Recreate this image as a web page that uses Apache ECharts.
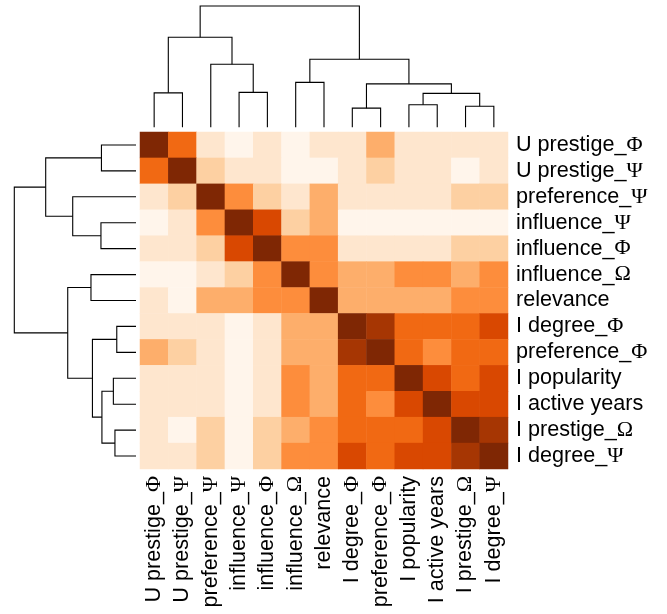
<!DOCTYPE html>
<html>
<head>
<meta charset="utf-8">
<script src="https://cdn.jsdelivr.net/npm/echarts@6/dist/echarts.min.js"></script>
<style>html,body{margin:0;padding:0;background:#fff;}#c{width:667px;height:614px;}</style>
</head>
<body>
<div id="c"></div>
<script>
// Variables, in clustered order (same for rows and columns)
const labels = ['U prestige_Φ','U prestige_Ψ','preference_Ψ','influence_Ψ','influence_Φ','influence_Ω','relevance',
  'I degree_Φ','preference_Φ','I popularity','I active years','I prestige_Ω','I degree_Ψ'];

// Colour level (0 = palest, 8 = darkest)
const row0  = [8,5,1,0,1,0,1,1,3,1,1,1,1];
const row1  = [5,8,2,1,1,0,0,1,2,1,1,0,1];
const row2  = [1,2,8,4,2,1,3,1,1,1,1,2,2];
const row3  = [0,1,4,8,6,2,3,0,0,0,0,0,0];
const row4  = [1,1,2,6,8,4,4,1,1,1,1,2,2];
const row5  = [0,0,1,2,4,8,4,3,3,4,4,3,4];
const row6  = [1,0,3,3,4,4,8,3,3,3,3,4,4];
const row7  = [1,1,1,0,1,3,3,8,7,5,5,5,6];
const row8  = [3,2,1,0,1,3,3,7,8,5,4,5,5];
const row9  = [1,1,1,0,1,4,3,5,5,8,6,5,6];
const row10 = [1,1,1,0,1,4,3,5,4,6,8,6,6];
const row11 = [1,0,2,0,2,3,4,5,5,5,6,8,7];
const row12 = [1,1,2,0,2,4,4,6,5,6,6,7,8];
const levels = [row0,row1,row2,row3,row4,row5,row6,row7,row8,row9,row10,row11,row12];

// Linkage: [childA, childB, height]; ids < 13 are leaves, id 13+k is merge k
const mergeA = [0, 3, 2, 13, 5, 7, 9, 11, 19, 18, 17, 16];
const mergeB = [1, 4, 14, 15, 6, 8, 10, 12, 20, 21, 22, 23];
const mergeH = [0.284, 0.288, 0.52, 0.742, 0.37, 0.158, 0.186, 0.173, 0.28, 0.358, 0.561, 1.0];

const palette = ['#fff5eb','#fee6ce','#fdd0a2','#fdae6b','#fd8d3c','#f16913','#d94801','#a63603','#7f2704'];

const n = labels.length;
const heatData = [];
for (let r = 0; r < n; r++) for (let c = 0; c < n; c++) heatData.push([c, r, levels[r][c]]);

const nodePos = [], nodeH = [];
for (let i = 0; i < n; i++) { nodePos.push(i + 0.5); nodeH.push(0); }
const links = [];
for (let k = 0; k < mergeA.length; k++) {
  const a = mergeA[k], b = mergeB[k], h = mergeH[k];
  links.push([nodePos[a], nodeH[a], nodePos[b], nodeH[b], h]);
  nodePos.push((nodePos[a] + nodePos[b]) / 2); nodeH.push(h);
}

function dendroRender(horizontal) {
  return function (params, api) {
    const pA = api.value(0), hA = api.value(1), pB = api.value(2), hB = api.value(3), h = api.value(4);
    const pts = horizontal
      ? [[pA, hA], [pA, h], [pB, h], [pB, hB]]
      : [[hA, pA], [h, pA], [h, pB], [hB, pB]];
    return {
      type: 'polyline',
      shape: { points: pts.map(p => api.coord(p)) },
      style: { stroke: '#000', fill: null, lineWidth: 1.1 }
    };
  };
}

const labelFmt = v => {
  const i = v.indexOf('_');
  return i >= 0 ? '{t|' + v.slice(0, i + 1) + '}{g|' + v.slice(i + 1) + '}' : '{t|' + v + '}';
};
const rich = {
  t: { fontFamily: 'Liberation Sans', fontSize: 21.6, color: '#000' },
  g: { fontFamily: 'Liberation Serif', fontSize: 22, color: '#000' }
};

const chart = echarts.init(document.getElementById('c'), null, { renderer: 'canvas' });
chart.setOption({
  animation: false,
  backgroundColor: '#fff',
  grid: [
    { left: 140, top: 132, width: 368, height: 337 },
    { left: 140, top: 6, width: 368, height: 121.3 },
    { left: 14.3, top: 132, width: 121.7, height: 337 }
  ],
  xAxis: [
    { type: 'category', gridIndex: 0, data: labels, position: 'bottom',
      axisLine: { show: false }, axisTick: { show: false }, splitLine: { show: false },
      axisLabel: { rotate: 90, margin: 7, interval: 0, formatter: labelFmt, rich: rich } },
    { type: 'value', gridIndex: 1, min: 0, max: n, show: false },
    { type: 'value', gridIndex: 2, min: 0, max: 1, inverse: true, show: false }
  ],
  yAxis: [
    { type: 'category', gridIndex: 0, data: labels, position: 'right', inverse: true,
      axisLine: { show: false }, axisTick: { show: false }, splitLine: { show: false },
      axisLabel: { margin: 8, interval: 0, formatter: labelFmt, rich: rich } },
    { type: 'value', gridIndex: 1, min: 0, max: 1, show: false },
    { type: 'value', gridIndex: 2, min: 0, max: n, inverse: true, show: false }
  ],
  visualMap: { show: false, min: 0, max: 8, dimension: 2, seriesIndex: 0, inRange: { color: palette } },
  series: [
    { type: 'heatmap', xAxisIndex: 0, yAxisIndex: 0, data: heatData, itemStyle: { borderWidth: 0 } },
    { type: 'custom', xAxisIndex: 1, yAxisIndex: 1, data: links, renderItem: dendroRender(true), silent: true },
    { type: 'custom', xAxisIndex: 2, yAxisIndex: 2, data: links, renderItem: dendroRender(false), silent: true }
  ]
});
</script>
</body>
</html>
